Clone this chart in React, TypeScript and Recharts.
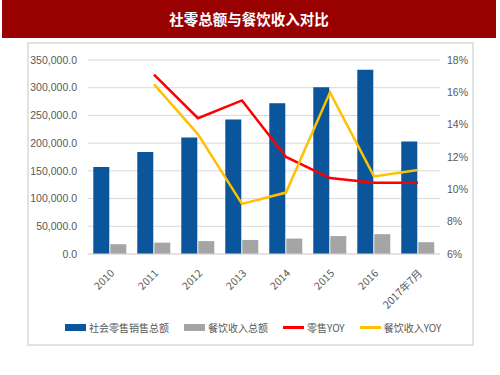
import { Bar, CartesianGrid, ComposedChart, Line, XAxis, YAxis } from "recharts"

const years = ["2010", "2011", "2012", "2013", "2014", "2015", "2016", "2017年7月"]
const retailTotal = [156998, 183919, 210307, 242843, 271896, 300931, 332316, 203000]
const cateringTotal = [17648, 20543, 23283, 25392, 27860, 32310, 35799, 21300]
const retailYoy = [null, 17.1, 14.4, 15.5, 12.0, 10.7, 10.4, 10.4]
const cateringYoy = [null, 16.5, 13.4, 9.1, 9.8, 16.0, 10.8, 11.2]

const leftTicks = [0, 50000, 100000, 150000, 200000, 250000, 300000, 350000]
const rightTicks = [6, 8, 10, 12, 14, 16, 18]

const legendItems = [
  { name: "社会零售销售总额", color: "#0b559a", kind: "bar" },
  { name: "餐饮收入总额", color: "#a5a5a5", kind: "bar" },
  { name: "零售YOY", color: "#ff0000", kind: "line" },
  { name: "餐饮收入YOY", color: "#ffc000", kind: "line" },
]

const data = years.map((year, i) => ({
  year,
  retail: retailTotal[i],
  catering: cateringTotal[i],
  retailYoy: retailYoy[i],
  cateringYoy: cateringYoy[i],
}))

const font = "'Noto Sans CJK SC', 'Liberation Sans', sans-serif"
const tickFont = "'Liberation Sans', 'Noto Sans CJK SC', sans-serif"

const fmtLeft = (v: number) =>
  v.toLocaleString("en-US", { minimumFractionDigits: 1, maximumFractionDigits: 1 })

function XTick({ x, y, payload }: any) {
  const ax = x + 5
  const ay = y + 12
  return (
    <text
      x={ax}
      y={ay}
      transform={`rotate(-45, ${ax}, ${ay})`}
      textAnchor="end"
      fontSize={10.5}
      fill="#595959"
      fontFamily={font}
    >
      {payload.value}
    </text>
  )
}

export default function App() {
  return (
    <div style={{ position: "absolute", left: 0, top: 0, width: 500, height: 375, background: "#fff", fontFamily: font }}>
      <div
        style={{
          position: "absolute",
          left: 2,
          top: 0,
          width: 494,
          height: 38,
          background: "#990000",
          color: "#fff",
          fontSize: 14.5,
          fontWeight: "bold",
          textAlign: "center",
          lineHeight: "38px",
        }}
      >
        社零总额与餐饮收入对比
      </div>
      <div
        style={{
          position: "absolute",
          left: 27,
          top: 42,
          width: 443,
          height: 300,
          border: "2px solid #e2e2e2",
        }}
      />
      <div style={{ position: "absolute", left: 0, top: 0 }}>
        <ComposedChart
          width={500}
          height={375}
          data={data}
          margin={{ top: 60, right: 28, bottom: 71, left: 28 }}
          barCategoryGap="12%"
          barGap={1}
        >
          <CartesianGrid yAxisId="left" vertical={false} stroke="#d9d9d9" />
          <XAxis
            dataKey="year"
            interval={0}
            height={50}
            tickLine={false}
            axisLine={{ stroke: "#d9d9d9" }}
            tick={<XTick />}
          />
          <YAxis
            yAxisId="left"
            width={60}
            domain={[0, 350000]}
            ticks={leftTicks}
            tickFormatter={fmtLeft}
            axisLine={false}
            tickLine={false}
            tickSize={0}
            tickMargin={11}
            tick={{ fontSize: 10.5, fill: "#595959", fontFamily: tickFont }}
          />
          <YAxis
            yAxisId="right"
            orientation="right"
            width={32}
            domain={[6, 18]}
            ticks={rightTicks}
            tickFormatter={(v: number) => `${v}%`}
            axisLine={false}
            tickLine={false}
            tickSize={0}
            tickMargin={7}
            tick={{ fontSize: 10.5, fill: "#595959", fontFamily: tickFont }}
          />
          <Bar yAxisId="left" dataKey="retail" fill="#0b559a" isAnimationActive={false} />
          <Bar yAxisId="left" dataKey="catering" fill="#a5a5a5" isAnimationActive={false} />
          <Line
            yAxisId="right"
            dataKey="retailYoy"
            stroke="#ff0000"
            strokeWidth={2.5}
            dot={false}
            isAnimationActive={false}
          />
          <Line
            yAxisId="right"
            dataKey="cateringYoy"
            stroke="#ffc000"
            strokeWidth={2.5}
            dot={false}
            isAnimationActive={false}
          />
        </ComposedChart>
      </div>
      <div
        style={{
          position: "absolute",
          left: 65,
          top: 320,
          display: "flex",
          alignItems: "center",
          fontSize: 10,
          color: "#595959",
        }}
      >
        {legendItems.map((item) => (
          <div key={item.name} style={{ display: "flex", alignItems: "center", marginRight: 15 }}>
            <span
              style={{
                display: "inline-block",
                width: 21,
                height: item.kind === "bar" ? 7 : 2.5,
                background: item.color,
                marginRight: 3,
              }}
            />
            {item.name}
          </div>
        ))}
      </div>
    </div>
  )
}
